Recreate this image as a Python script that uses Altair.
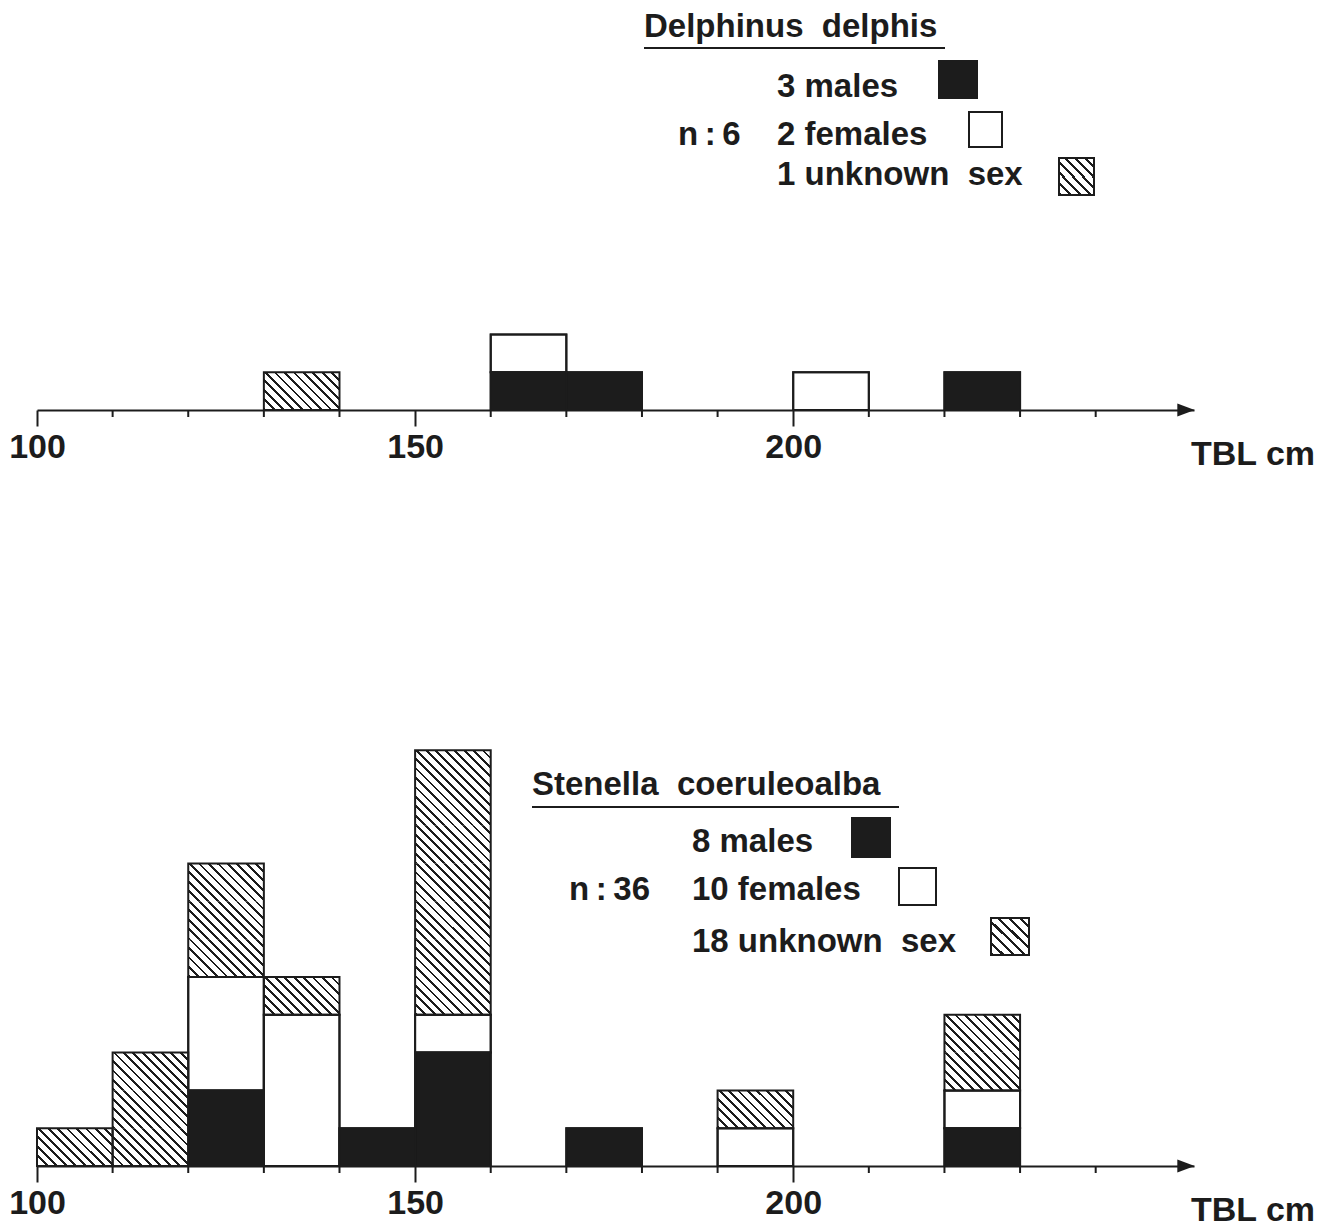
import altair as alt
import pandas as pd

# ---------------- data ----------------
BIN_WIDTH = 10
bins = [100, 110, 120, 130, 140, 150, 160, 170, 180, 190, 200, 210, 220, 230]

delphinus_males   = [0, 0, 0, 0, 0, 0, 1, 1, 0, 0, 0, 0, 1, 0]
delphinus_females = [0, 0, 0, 0, 0, 0, 1, 0, 0, 0, 1, 0, 0, 0]
delphinus_unknown = [0, 0, 0, 1, 0, 0, 0, 0, 0, 0, 0, 0, 0, 0]

stenella_males    = [0, 0, 2, 0, 1, 3, 0, 1, 0, 0, 0, 0, 1, 0]
stenella_females  = [0, 0, 3, 4, 0, 1, 0, 0, 0, 1, 0, 0, 1, 0]
stenella_unknown  = [1, 3, 3, 1, 0, 7, 0, 0, 0, 1, 0, 0, 2, 0]

label_ticks = [100, 150, 200]
minor_ticks = [110, 120, 130, 140, 160, 170, 180, 190, 210, 220, 230, 240]
x_domain = [100, 253]

delphinus_title = "Delphinus\u00a0\u00a0delphis"
delphinus_lines = ["3 males", "2 females", "1 unknown\u00a0\u00a0sex"]
delphinus_n = "n\u2009:\u20096"
stenella_title = "Stenella\u00a0\u00a0coeruleoalba"
stenella_lines = ["8 males", "10 females", "18 unknown\u00a0\u00a0sex"]
stenella_n = "n\u2009:\u200936"
axis_unit = "TBL cm"

# ---------------- style ----------------
INK = "#1c1c1c"
FONT = "Liberation Sans"
UNIT = 37.8          # pixels per specimen
WIDTH = 1157


def hatch(n_stripes, x1, y1, x2, y2, frac=0.3):
    stops = []
    for k in range(n_stripes):
        a = k / n_stripes
        b = a + frac / n_stripes
        c = (k + 1) / n_stripes
        stops += [
            {"offset": a, "color": INK},
            {"offset": b, "color": INK},
            {"offset": b, "color": "white"},
            {"offset": c, "color": "white"},
        ]
    return {"gradient": "linear", "x1": x1, "y1": y1, "x2": x2, "y2": y2, "stops": stops}


HATCH_CELL = hatch(12, 0, 1, 1.2, 0.4)
HATCH_KEY = hatch(7, 0, 1, 1, 0)

AX = alt.Axis(
    values=label_ticks, title=None, grid=False, format="d",
    tickSize=16, tickWidth=2, tickColor=INK,
    domainColor=INK, domainWidth=2,
    labelFont=FONT, labelFontSize=34, labelFontWeight="bold", labelColor=INK,
    labelPadding=4, labelFlush=False, labelOverlap=False,
)


def segments(males, females, unknown):
    rows, cells = [], []
    for b, m, f, u in zip(bins, males, females, unknown):
        base = 0
        for sex, n in (("male", m), ("female", f), ("unknown", u)):
            if n:
                rows.append(dict(x0=b, x1=b + BIN_WIDTH, y0=base, y1=base + n, sex=sex))
                if sex == "unknown":
                    for k in range(n):
                        cells.append(dict(x0=b, x1=b + BIN_WIDTH, y0=base + k, y1=base + k + 1))
                base += n
    return pd.DataFrame(rows), pd.DataFrame(cells)


def panel(males, females, unknown, height, title, lines, n_text, lay):
    seg, cells = segments(males, females, unknown)
    xs = alt.Scale(domain=x_domain, nice=False, zero=False)
    ys = alt.Scale(domain=[0, height / UNIT], nice=False, zero=False)
    X = alt.X("x0:Q", scale=xs, axis=AX)
    Y = alt.Y("y0:Q", scale=ys, axis=None)

    solid = alt.Chart(seg[seg.sex != "unknown"]).mark_rect(stroke=INK, strokeWidth=2).encode(
        x=X, x2="x1", y=Y, y2="y1",
        fill=alt.Fill("sex:N", scale=alt.Scale(domain=["male", "female"], range=[INK, "white"]), legend=None),
    )
    hatched = alt.Chart(cells).mark_rect(fill=HATCH_CELL).encode(x=X, x2="x1", y=Y, y2="y1")
    outline = alt.Chart(seg).mark_rect(fill="transparent", stroke=INK, strokeWidth=2).encode(
        x=X, x2="x1", y=Y, y2="y1")
    ticks = alt.Chart(pd.DataFrame({"t": minor_ticks})).mark_rule(color=INK, strokeWidth=2).encode(
        x=alt.X("t:Q", scale=xs, axis=AX), y=alt.value(height), y2=alt.value(height + 7))

    one = alt.Chart(pd.DataFrame({"k": [0]}))
    arrow = one.mark_point(shape="M-1,-0.75L1,0L-1,0.75Z", filled=True, size=300,
                           color=INK, opacity=1).encode(
        x=alt.value(WIDTH - 8), y=alt.value(height))
    txt = dict(align="left", baseline="alphabetic", font=FONT, fontSize=33,
               fontWeight="bold", color=INK)
    layers = [solid, hatched, outline, ticks, arrow]
    layers.append(one.mark_text(text=axis_unit, **{**txt, "fontSize": 34}).encode(
        x=alt.value(1154), y=alt.value(height + 55)))
    # legend block
    tx, ty = lay["title"]
    layers.append(one.mark_text(text=title, **txt).encode(x=alt.value(tx), y=alt.value(ty)))
    ux0, ux1, uy = lay["under"]
    layers.append(one.mark_rule(color=INK, strokeWidth=2).encode(
        x=alt.value(ux0), x2=alt.value(ux1), y=alt.value(uy)))
    lx = lay["lx"]
    for s, yb in zip(lines, lay["ly"]):
        layers.append(one.mark_text(text=s, **txt).encode(x=alt.value(lx), y=alt.value(yb)))
    nx, ny = lay["n"]
    layers.append(one.mark_text(text=n_text, **txt).encode(x=alt.value(nx), y=alt.value(ny)))
    fills = [INK, "white", HATCH_KEY]
    for fcol, (a, b, c, d) in zip(fills, lay["keys"]):
        layers.append(one.mark_rect(fill=fcol, stroke=INK, strokeWidth=2).encode(
            x=alt.value(a), x2=alt.value(b), y=alt.value(c), y2=alt.value(d)))
    return alt.layer(*layers).properties(width=WIDTH, height=height)


OX = 38  # page x of value 100
top_lay = {
    "title": (645 - OX, 37),
    "under": (645 - OX, 946 - OX, 48),
    "lx": 778 - OX,
    "ly": [97, 145, 185],
    "n": (679 - OX, 145),
    "keys": [(940 - OX, 978 - OX, 61, 98), (970 - OX, 1003 - OX, 112, 147),
             (1060 - OX, 1095 - OX, 158, 195)],
}
T2 = 750
bot_lay = {
    "title": (533 - OX, 795 - T2),
    "under": (533 - OX, 900 - OX, 807 - T2),
    "lx": 693 - OX,
    "ly": [852 - T2, 900 - T2, 952 - T2],
    "n": (570 - OX, 900 - T2),
    "keys": [(853 - OX, 891 - OX, 818 - T2, 857 - T2), (900 - OX, 937 - OX, 868 - T2, 905 - T2),
             (992 - OX, 1030 - OX, 918 - T2, 955 - T2)],
}

top = panel(delphinus_males, delphinus_females, delphinus_unknown, 410,
            delphinus_title, delphinus_lines, delphinus_n, top_lay)
bottom = panel(stenella_males, stenella_females, stenella_unknown, 416,
               stenella_title, stenella_lines, stenella_n, bot_lay)

chart = alt.vconcat(top, bottom, spacing=340, bounds="flush").properties(
    padding={"left": 8, "top": 0, "right": 0, "bottom": 0},
    background="white",
).configure_view(strokeOpacity=0)

chart.save("out.html", embed_options={"renderer": "svg", "actions": False})
